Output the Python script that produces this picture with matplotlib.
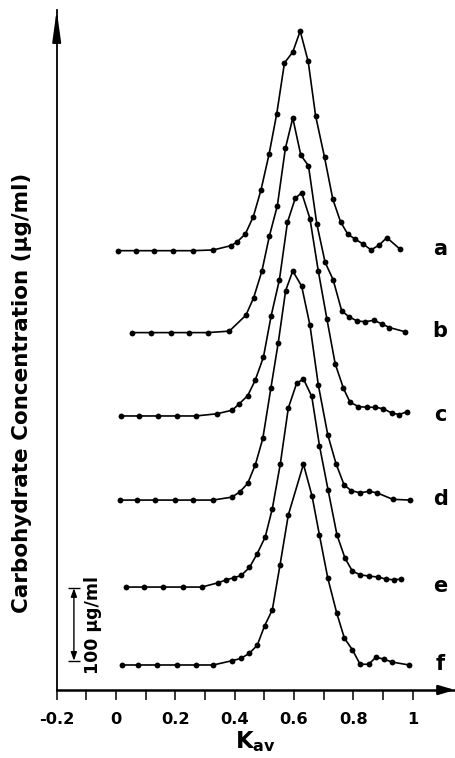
import numpy as np
import matplotlib
matplotlib.use("Agg")
import matplotlib.pyplot as plt

# Kav positions and carbohydrate concentration (ug/ml above each baseline)
a_x = [0.008, 0.066, 0.129, 0.193, 0.259, 0.328, 0.388, 0.408, 0.436, 0.463, 0.489, 0.516, 0.542, 0.568,
       0.596, 0.621, 0.648, 0.673, 0.703, 0.731, 0.757, 0.781, 0.806, 0.834, 0.860, 0.888, 0.913, 0.958]
a_h = [0, 0, 0, 0, 0, 1, 7, 12, 23, 47, 84, 133, 189, 259,
       274, 303, 261, 186, 129, 71, 40, 23, 16, 9, 1, 8, 18, 2]

b_x = [0.055, 0.118, 0.184, 0.247, 0.309, 0.382, 0.438, 0.464, 0.492, 0.517, 0.544, 0.571, 0.596,
       0.623, 0.649, 0.677, 0.705, 0.732, 0.761, 0.785, 0.813, 0.840, 0.870, 0.896, 0.922, 0.976]
b_h = [0, 0, 0, 0, 0, 2, 24, 48, 85, 133, 175, 254, 296,
       245, 230, 150, 97, 73, 30, 22, 16, 15, 17, 12, 7, 1]

c_x = [0.016, 0.078, 0.141, 0.205, 0.269, 0.340, 0.392, 0.416, 0.444, 0.469, 0.497, 0.523, 0.551, 0.578,
       0.604, 0.626, 0.654, 0.682, 0.711, 0.739, 0.767, 0.789, 0.817, 0.846, 0.874, 0.901, 0.930, 0.955, 0.982]
c_h = [0, 0, 0, 0, 0, 3, 8, 17, 28, 49, 81, 138, 188, 267,
       300, 308, 272, 200, 134, 72, 38, 19, 13, 12, 12, 10, 4, 2, 6]

d_x = [0.013, 0.070, 0.132, 0.199, 0.261, 0.327, 0.390, 0.417, 0.444, 0.470, 0.495, 0.522, 0.547, 0.572,
       0.596, 0.626, 0.654, 0.682, 0.714, 0.742, 0.769, 0.793, 0.823, 0.852, 0.880, 0.933, 0.992]
d_h = [0, 0, 0, 0, 0, 0, 4, 11, 23, 49, 85, 154, 217, 289,
       316, 295, 241, 159, 90, 50, 21, 13, 10, 12, 10, 1, 0]

e_x = [0.034, 0.095, 0.160, 0.225, 0.289, 0.345, 0.372, 0.399, 0.422, 0.450, 0.476, 0.503, 0.527, 0.554,
       0.581, 0.609, 0.632, 0.660, 0.686, 0.715, 0.745, 0.772, 0.797, 0.823, 0.853, 0.882, 0.910, 0.936, 0.962]
e_h = [0, 0, 0, 0, 0, 6, 10, 13, 16, 27, 46, 69, 108, 170,
       247, 281, 287, 263, 195, 134, 72, 40, 22, 17, 15, 14, 11, 10, 11]

f_x = [0.019, 0.073, 0.139, 0.205, 0.270, 0.328, 0.392, 0.421, 0.449, 0.476, 0.501, 0.527, 0.553, 0.581,
       0.632, 0.661, 0.686, 0.714, 0.744, 0.770, 0.797, 0.823, 0.852, 0.877, 0.902, 0.932, 0.988]
f_h = [0, 0, 0, 0, 0, 0, 6, 9, 16, 27, 54, 76, 138, 207,
       277, 233, 179, 120, 72, 37, 21, 1, 1, 11, 8, 4, 0]

labels = ["a", "b", "c", "d", "e", "f"]
baselines = [606, 493, 378, 262, 142, 34.5]   # vertical offset of each profile
curves = [(a_x, a_h), (b_x, b_h), (c_x, c_h), (d_x, d_h), (e_x, e_h), (f_x, f_h)]

tick_major = [-0.2, 0, 0.2, 0.4, 0.6, 0.8, 1.0]
tick_labels = ["-0.2", "0", "0.2", "0.4", "0.6", "0.8", "1"]
tick_minor = [-0.1, 0.1, 0.3, 0.5, 0.7, 0.9]

bar_x = -0.142
bar_lo, bar_hi = 40.4, 140.4

plt.rcParams["font.family"] = "DejaVu Sans"
plt.rcParams["font.weight"] = "bold"

fig = plt.figure(figsize=(4.55, 7.58), dpi=100)
ax = fig.add_axes([56.7 / 455, 68 / 758, (455 - 56.7) / 455, 680 / 758])
ax.set_xlim(-0.2, 1.143)
ax.set_ylim(0, 938)

for (xs, hs), base, lab in zip(curves, baselines, labels):
    ys = np.asarray(hs, dtype=float) + base
    ax.plot(xs, ys, "-o", color="black", lw=1.2, ms=4.2, mew=0)
    ax.text(1.093, base + 2, lab, ha="center", va="center", fontsize=15, fontweight="bold")

# scale bar 100 ug/ml
ax.annotate("", xy=(bar_x, bar_hi), xytext=(bar_x, bar_lo),
            arrowprops=dict(arrowstyle="<|-|>,head_length=0.5,head_width=0.18",
                            lw=1.0, color="black", shrinkA=0, shrinkB=0))
ax.hlines([bar_lo, bar_hi], bar_x - 0.02, bar_x + 0.02, color="black", lw=1.0)
ax.text(-0.077, (bar_lo + bar_hi) / 2 - 1, "100 µg/ml", rotation=90, ha="center", va="center",
        fontsize=12.5, fontweight="bold")

# axes with arrow heads
for s in ["top", "right"]:
    ax.spines[s].set_visible(False)
ax.spines["left"].set_linewidth(1.3)
ax.spines["bottom"].set_linewidth(1.8)
ax.annotate("", xy=(1.0, 0), xytext=(0.96, 0), xycoords="axes fraction",
            arrowprops=dict(arrowstyle="-|>,head_length=0.95,head_width=0.28",
                            lw=1.8, color="black", shrinkA=0, shrinkB=0))
ax.annotate("", xy=(0, 1.0), xytext=(0, 0.96), xycoords="axes fraction",
            arrowprops=dict(arrowstyle="-|>,head_length=1.9,head_width=0.26",
                            lw=1.3, color="black", shrinkA=0, shrinkB=0))

ax.set_xticks(tick_major)
ax.set_xticklabels(tick_labels, fontsize=11.7, fontweight="bold")
ax.set_xticks(tick_minor, minor=True)
ax.tick_params(axis="x", which="both", direction="out", length=7.2, width=1.1, pad=9)
ax.set_yticks([])

ax.set_xlabel(r"$\mathbf{K_{av}}$", fontsize=16.5, labelpad=1)
ax.set_ylabel("Carbohydrate Concentration (µg/ml)", fontsize=15.5, fontweight="bold")
ax.yaxis.set_label_coords(-0.086, 0.437)
ax.yaxis.label.set_va("center")

fig.savefig("out.png", dpi=100)
